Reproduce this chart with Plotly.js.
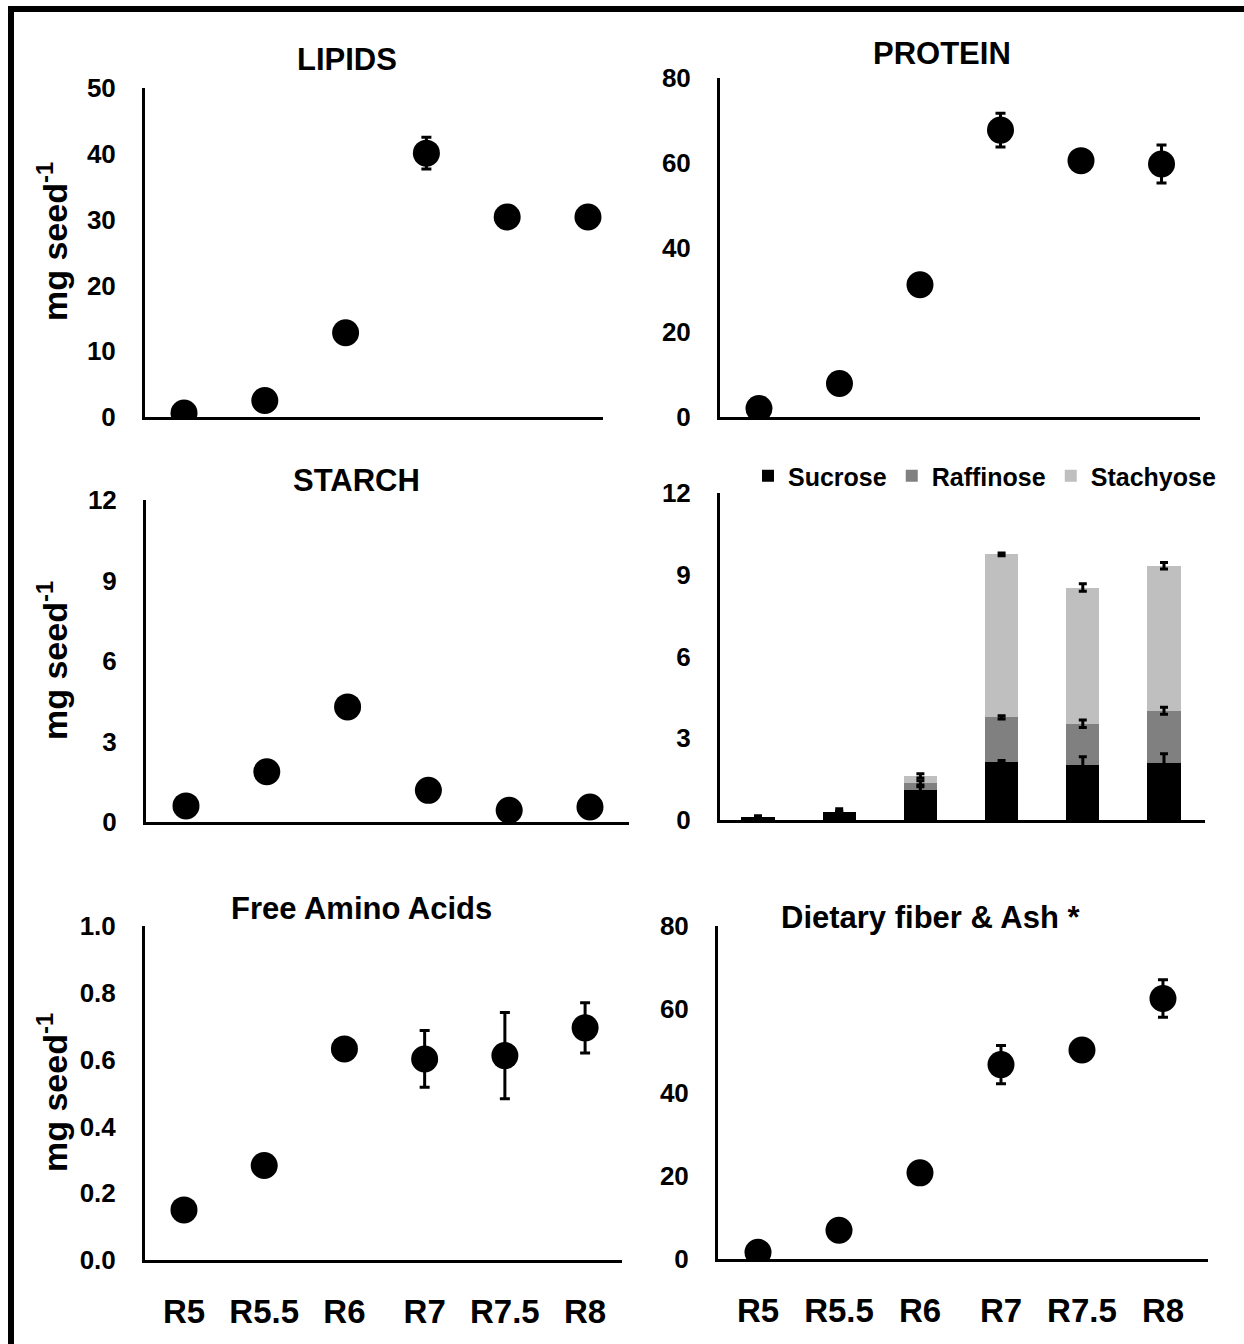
<!DOCTYPE html>
<html>
<head>
<meta charset="utf-8">
<script src="https://cdn.plot.ly/plotly-3.0.1.min.js"></script>
<style>html,body{margin:0;padding:0;background:#fff;}#chart{width:1244px;height:1344px;}</style>
</head>
<body>
<div id="chart"></div>
<script>
// ---------- DATA ----------
const stages = ['R5', 'R5.5', 'R6', 'R7', 'R7.5', 'R8'];

const lipids      = [0.6, 2.5, 12.8, 40.1, 30.4, 30.4];
const lipidsErr   = [0, 0, 0, 2.4, 0, 0];

const protein     = [2.0, 7.9, 31.2, 67.7, 60.5, 59.7];
const proteinErr  = [0, 0, 0, 4.0, 0, 4.5];

const starch      = [0.6, 1.87, 4.29, 1.18, 0.44, 0.56];
const starchErr   = [0, 0, 0, 0, 0, 0];

const sucrose     = [0.10, 0.31, 1.10, 2.12, 2.02, 2.11];
const raffinose   = [0.00, 0.00, 0.26, 1.65, 1.51, 1.90];
const stachyose   = [0.00, 0.00, 0.26, 5.98, 5.00, 5.32];
const sucroseErr  = [0.06, 0.10, 0.12, 0.06, 0.30, 0.32];
const raffinoseErr= [0, 0, 0.08, 0.06, 0.14, 0.13];
const stachyoseErr= [0, 0, 0.08, 0.05, 0.14, 0.12];

const aminoAcids    = [0.15, 0.283, 0.632, 0.602, 0.612, 0.695];
const aminoAcidsErr = [0, 0, 0, 0.085, 0.129, 0.075];

const fiberAsh    = [1.6, 6.9, 20.7, 46.7, 50.2, 62.6];
const fiberAshErr = [0, 0, 0, 4.6, 0, 4.5];

const panelTitles = ['LIPIDS', 'PROTEIN', 'STARCH', '', 'Free Amino Acids', 'Dietary fiber & Ash *'];
const seriesNames = ['Sucrose', 'Raffinose', 'Stachyose'];
const yTitle = 'mg seed<sup>-1</sup>';

// ---------- LAYOUT HELPERS ----------
const W = 1244, H = 1344;
const FONT = 'Arial, "Liberation Sans", sans-serif';
const xp = p => p / W;
const yp = p => 1 - p / H;

const panels = [
  {id: '',  xd: [145, 603],  yd: [88, 417],   yr: [0, 50], dt: 10, xr: [-0.483, 5.186], fmt: ''},
  {id: '2', xd: [720, 1200], yd: [78, 417],   yr: [0, 80], dt: 20, xr: [-0.484, 5.478], fmt: ''},
  {id: '3', xd: [146, 629],  yd: [500, 822],  yr: [0, 12], dt: 3,  xr: [-0.495, 5.483], fmt: ''},
  {id: '4', xd: [720, 1205], yd: [493, 820],  yr: [0, 12], dt: 3,  xr: [-0.468, 5.505], fmt: ''},
  {id: '5', xd: [145, 622],  yd: [926, 1260], yr: [0, 1],  dt: 0.2, xr: [-0.486, 5.46], fmt: '.1f', showx: true},
  {id: '6', xd: [718, 1208], yd: [926, 1259], yr: [0, 80], dt: 20, xr: [-0.494, 5.556], fmt: '', showx: true}
];
const titlePos = [[347, 59], [942, 53], [356, 480], [0, 0], [361, 908], [931, 917]];
const yTitlePos = [[52, 242], [52, 661], [52, 1093]];

const layout = {
  width: W, height: H,
  margin: {l: 0, r: 0, t: 0, b: 0},
  paper_bgcolor: '#fff', plot_bgcolor: 'rgba(0,0,0,0)',
  showlegend: true,
  barmode: 'stack',
  font: {family: FONT, color: '#000'},
  legend: {
    orientation: 'h', x: xp(748), xanchor: 'left', y: yp(453), yanchor: 'top',
    traceorder: 'normal', font: {family: FONT, size: 25, weight: 700, color: '#000'},
    bgcolor: 'rgba(0,0,0,0)', itemclick: false, tracegroupgap: 0, itemwidth: 30
  },
  annotations: [],
  shapes: [
    {type: 'line', xref: 'paper', yref: 'paper', x0: xp(8), x1: 1, y0: yp(9), y1: yp(9), line: {color: '#000', width: 6}},
    {type: 'line', xref: 'paper', yref: 'paper', x0: xp(11), x1: xp(11), y0: yp(6), y1: 0, line: {color: '#000', width: 6}}
  ]
};

panels.forEach((p, i) => {
  layout['xaxis' + p.id] = {
    domain: [xp(p.xd[0]), xp(p.xd[1])],
    anchor: 'y' + p.id,
    type: 'category', range: p.xr,
    showline: true, linecolor: '#000', linewidth: 3,
    showgrid: false, zeroline: false, ticks: '',
    showticklabels: !!p.showx,
    tickfont: {family: FONT, size: 33, weight: 700, color: '#000'},
    ticklabelstandoff: 20, fixedrange: true
  };
  layout['yaxis' + p.id] = {
    domain: [yp(p.yd[1]), yp(p.yd[0])],
    anchor: 'x' + p.id,
    range: p.yr, dtick: p.dt, tick0: 0, tickformat: p.fmt,
    showline: true, linecolor: '#000', linewidth: 3,
    showgrid: false, zeroline: false, ticks: '',
    tickfont: {family: FONT, size: 26, weight: 700, color: '#000'},
    ticklabelstandoff: 21, fixedrange: true
  };
  if (panelTitles[i]) {
    layout.annotations.push({
      text: panelTitles[i], xref: 'paper', yref: 'paper',
      x: xp(titlePos[i][0]), y: yp(titlePos[i][1]), xanchor: 'center', yanchor: 'middle',
      showarrow: false, font: {family: FONT, size: 31, weight: 700, color: '#000'}
    });
  }
});
yTitlePos.forEach(pos => {
  layout.annotations.push({
    text: yTitle, xref: 'paper', yref: 'paper', x: xp(pos[0]), y: yp(pos[1]),
    xanchor: 'center', yanchor: 'middle', textangle: -90, showarrow: false,
    font: {family: FONT, size: 34, weight: 700, color: '#000'}
  });
});

// ---------- TRACES ----------
function dots(vals, errs, id) {
  return {
    type: 'scatter', mode: 'markers', x: stages, y: vals,
    xaxis: 'x' + id, yaxis: 'y' + id, showlegend: false,
    marker: {color: '#000', size: 27, symbol: 'circle'},
    error_y: {type: 'data', array: errs, visible: true, color: '#000', thickness: 3, width: 5},
    hoverinfo: 'x+y'
  };
}

const traces = [
  dots(lipids, lipidsErr, ''),
  dots(protein, proteinErr, '2'),
  dots(starch, starchErr, '3'),
  dots(aminoAcids, aminoAcidsErr, '5'),
  dots(fiberAsh, fiberAshErr, '6')
];

const sugarVals = [sucrose, raffinose, stachyose];
const sugarErrs = [sucroseErr, raffinoseErr, stachyoseErr];
const sugarColors = ['#000000', '#808080', '#bfbfbf'];
sugarVals.forEach((v, k) => {
  traces.push({
    type: 'bar', x: stages, y: v, name: seriesNames[k],
    xaxis: 'x4', yaxis: 'y4', width: 0.41,
    marker: {color: sugarColors[k], line: {width: 0}},
    showlegend: true
  });
});
// error bars at the top of each stacked segment (drawn above the bars)
const cum = stages.map(() => 0);
sugarVals.forEach((v, k) => {
  const tops = v.map((val, j) => { cum[j] += val; return cum[j]; });
  traces.push({
    type: 'scatter', mode: 'markers', x: stages, y: tops,
    xaxis: 'x4', yaxis: 'y4', showlegend: false, hoverinfo: 'skip',
    marker: {size: 1, color: 'rgba(0,0,0,0)'},
    error_y: {type: 'data', array: sugarErrs[k], visible: true, color: '#000', thickness: 3, width: 4}
  });
});

Plotly.newPlot('chart', traces, layout, {staticPlot: true, displayModeBar: false});
</script>
</body>
</html>
